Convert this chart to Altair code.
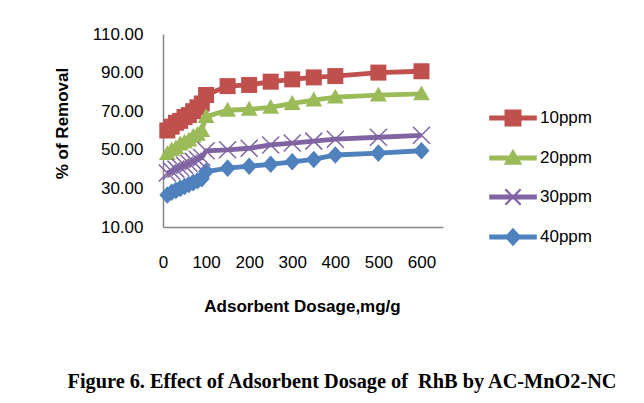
import altair as alt
import pandas as pd

dosage = [10, 20, 30, 40, 50, 60, 70, 80, 90, 100, 150, 200, 250, 300, 350, 400, 500, 600]
series_names = ["10ppm", "20ppm", "30ppm", "40ppm"]
ppm10 = [60, 62, 64, 65, 67, 68, 70, 72, 74, 78.4, 83, 83.6, 85.3, 86.5, 87.5, 88.2, 90, 90.7]
ppm20 = [48, 50, 51, 53, 54, 55, 57, 58, 60, 67.2, 70.5, 71, 72, 74, 75.8, 77.3, 78.3, 79]
ppm30 = [38, 39, 40, 41, 42, 43, 44, 45, 46, 49.5, 50, 50.8, 52.5, 53.5, 54.5, 55.5, 56.5, 57.5]
ppm40 = [26.6, 28, 29, 30, 31, 32, 33, 34, 35, 38.7, 40.5, 41.5, 42.5, 43.8, 45, 47.3, 48.3, 49.5]
colors = ["#C0504D", "#9BBB59", "#8064A2", "#4F81BD"]
y_ticks = [10, 30, 50, 70, 90, 110]
x_ticks = [0, 100, 200, 300, 400, 500, 600]

rows = []
for name, vals in zip(series_names, [ppm10, ppm20, ppm30, ppm40]):
    for d, v in zip(dosage, vals):
        rows.append({"dosage": d, "removal": v, "series": name})
df = pd.DataFrame(rows)

FONT = "Liberation Sans"

x_enc = alt.X("dosage:Q", scale=alt.Scale(domain=[0, 650], nice=False),
              axis=alt.Axis(values=x_ticks, title="Adsorbent Dosage,mg/g", labelPadding=27,
                            labelOverlap=False,
                            titleX=139, titleY=79, titleBaseline="middle", titleAnchor="middle"))
y_enc = alt.Y("removal:Q", scale=alt.Scale(domain=[10, 110], nice=False),
              axis=alt.Axis(values=y_ticks, format=".2f", title="% of Removal", labelPadding=20,
                            labelOverlap=False, tickCount=6,
                            titleX=-101, titleY=89, titleAngle=-90, titleBaseline="middle",
                            titleAnchor="middle"))

cscale = alt.Scale(domain=series_names, range=colors)

base = alt.Chart(df)

lines = base.mark_line(strokeWidth=4.8).encode(
    x=x_enc, y=y_enc,
    color=alt.Color("series:N", scale=cscale, legend=None),
    detail="series:N",
)

sq = "M-1,-1L1,-1L1,1L-1,1Z"
tri = "M0,-1.05L1.05,0.8L-1.05,0.8Z"
dia = "M0,-1.1L1,0L0,1.1L-1,0Z"
filled_pts = base.transform_filter(alt.datum.series != "30ppm").mark_point(
    filled=True, opacity=1, size=256).encode(
    x=x_enc, y=y_enc,
    color=alt.Color("series:N", scale=cscale, legend=None),
    shape=alt.Shape("series:N", scale=alt.Scale(domain=["10ppm", "20ppm", "40ppm"],
                                                range=[sq, tri, dia]), legend=None),
)

xpts = base.transform_filter(alt.datum.series == "30ppm").mark_point(
    filled=False, shape="M-1,-1L1,1M-1,1L1,-1", size=289, strokeWidth=1.5,
    color=colors[2], opacity=1).encode(x=x_enc, y=y_enc)

leg_line = "M-1.4,-0.15L1.4,-0.15L1.4,0.15L-1.4,0.15Z"
leg_paths = [
    leg_line + "M-0.5,-0.5L0.5,-0.5L0.5,0.5L-0.5,0.5Z",
    leg_line + "M0,-0.55L0.55,0.4L-0.55,0.4Z",
    leg_line + "M-0.405,-0.495L0.495,0.405L0.405,0.495L-0.495,-0.405Z"
               "M0.495,-0.405L-0.405,0.495L-0.495,0.405L0.405,-0.495Z",
    leg_line + "M0,-0.55L0.5,0L0,0.55L-0.5,0Z",
]
legend = alt.Legend(orient="none", legendX=333, legendY=67, title=None, padding=0,
                    symbolSize=1156, symbolOpacity=1, symbolStrokeWidth=0, rowPadding=14,
                    labelFont=FONT, labelFontSize=17, labelColor="black", labelOffset=10)
leg_layer = base.mark_point(filled=True, opacity=0).encode(
    x=x_enc, y=y_enc,
    color=alt.Color("series:N", scale=alt.Scale(domain=series_names, range=colors), legend=legend),
    shape=alt.Shape("series:N", scale=alt.Scale(domain=series_names, range=leg_paths), legend=legend),
)

chart = alt.layer(lines, filled_pts, xpts, leg_layer).resolve_scale(
    color="independent", shape="independent"
).properties(
    width=280, height=193,
    autosize=alt.AutoSizeParams(type="none"),
    padding={"left": 155, "top": 26, "right": 193, "bottom": 168},
    title=alt.TitleParams("Figure 6. Effect of Adsorbent Dosage of \u00a0RhB by AC-MnO2-NC",
                          orient="bottom", anchor="middle", frame="group", dx=39, offset=58,
                          font="Liberation Serif", fontSize=20.3, fontWeight="bold", color="black"),
).configure_view(stroke=None).configure_axis(
    grid=False, ticks=False, domainColor="#868686", domainWidth=1.5,
    labelOverlap=False, labelFlush=False, labelBound=False,
    labelFont=FONT, labelFontSize=17, labelColor="black",
    titleFont=FONT, titleFontSize=17, titleFontWeight="bold", titleColor="black",
)

chart.save("out.html", embed_options={"renderer": "svg", "actions": False})
